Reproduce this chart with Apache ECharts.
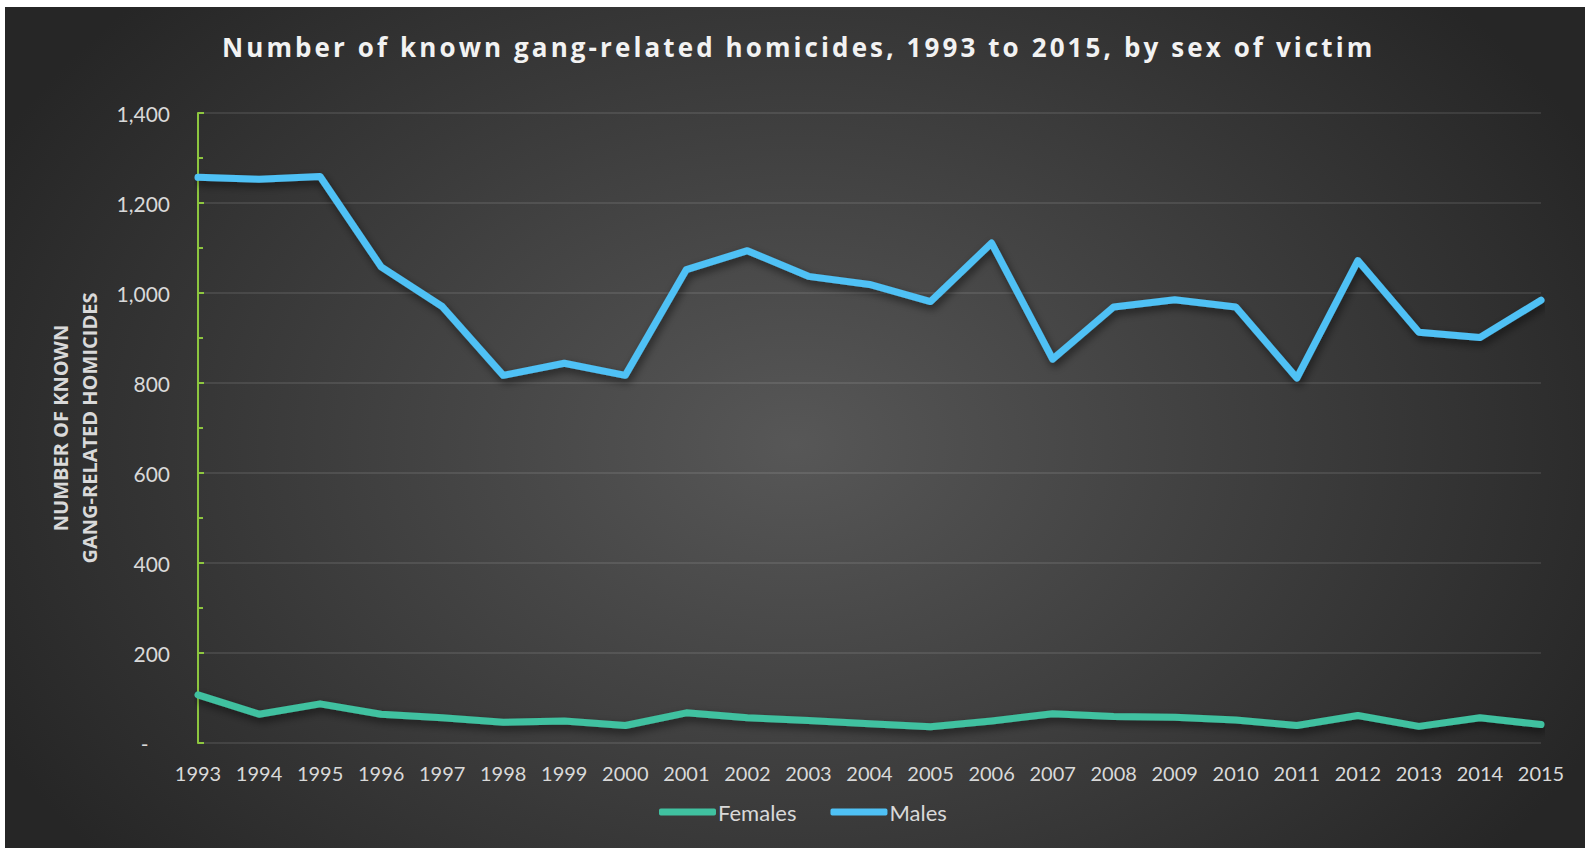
<!DOCTYPE html>
<html>
<head>
<meta charset="utf-8">
<script src="https://cdn.jsdelivr.net/npm/echarts@6/dist/echarts.min.js"></script>
<style>
  html, body { margin: 0; padding: 0; background: #ffffff; }
  #chart {
    position: absolute; left: 5px; top: 7px; width: 1580px; height: 841px;
    background: radial-gradient(ellipse 900px 650px at 50% 52%, #575757 0%, #262626 100%);
  }
</style>
</head>
<body>
<div id="chart"></div>
<script>
const titleText = 'Number of known gang-related homicides, 1993 to 2015, by sex of victim';
const yAxisName = 'NUMBER OF KNOWN\nGANG-RELATED HOMICIDES';
const years = ['1993','1994','1995','1996','1997','1998','1999','2000','2001','2002','2003','2004','2005','2006','2007','2008','2009','2010','2011','2012','2013','2014','2015'];
const females = [107,64,87,64,56,46,49,39,67,56,50,43,36,49,65,59,57,51,39,61,37,56,41];
const males = [1257,1253,1259,1058,970,817,844,817,1052,1094,1037,1019,981,1111,853,969,985,969,811,1072,913,901,984];
const seriesNames = ['Females', 'Males'];

const chart = echarts.init(document.getElementById('chart'), null, { renderer: 'svg' });
const labelColor = '#d9d9d9';
const font = 'Lato';
const lineShadow = { shadowColor: 'rgba(0,0,0,0.55)', shadowBlur: 8, shadowOffsetX: 2, shadowOffsetY: 4 };

function applySpacing() {
  const texts = document.querySelectorAll('#chart svg text');
  texts.forEach(t => {
    const s = t.textContent;
    if (s === titleText) t.style.letterSpacing = '3.1px';
  });
}
chart.on('finished', applySpacing);

chart.setOption({
  backgroundColor: 'transparent',
  animation: false,
  title: {
    text: titleText,
    left: 212,
    top: 22,
    textStyle: { color: '#f2f2f2', fontFamily: 'Open Sans', fontWeight: 'bold', fontSize: 26 }
  },
  legend: {
    data: seriesNames,
    left: 649,
    top: 789,
    icon: 'roundRect',
    itemWidth: 57,
    itemHeight: 7,
    itemGap: 34,
    textStyle: { color: labelColor, fontFamily: font, fontSize: 22, padding: [0, 0, 0, -3] }
  },
  grid: { left: 193, right: 44, top: 106, bottom: 105, containLabel: false },
  xAxis: {
    type: 'category',
    data: years,
    boundaryGap: false,
    axisLine: { show: false },
    axisTick: { show: false },
    axisLabel: { color: labelColor, fontFamily: font, fontSize: 20, margin: 20 },
    splitLine: { show: false }
  },
  yAxis: {
    type: 'value',
    min: 0, max: 1400, interval: 200,
    name: yAxisName,
    nameLocation: 'middle',
    nameGap: 94,
    nameTextStyle: { color: labelColor, fontFamily: 'Open Sans', fontWeight: 'bold', fontSize: 20, lineHeight: 29, align: 'center' },
    axisLine: { show: true, lineStyle: { color: '#8dc63f', width: 2 } },
    axisTick: { show: true, inside: true, length: 6, lineStyle: { color: '#8dc63f', width: 2 } },
    minorTick: { show: true, splitNumber: 2, length: 5, lineStyle: { color: '#8dc63f', width: 2 } },
    axisLabel: {
      color: labelColor, fontFamily: font, fontSize: 21, margin: 28,
      formatter: v => v === 0 ? '-    ' : v.toLocaleString('en-US')
    },
    splitLine: { show: true, lineStyle: { color: 'rgba(255,255,255,0.13)', width: 1.5 } }
  },
  series: [
    {
      name: seriesNames[0], type: 'line', data: females,
      showSymbol: false, symbol: 'none',
      color: '#40c1a0',
      lineStyle: Object.assign({ width: 7, color: '#40c1a0', cap: 'round', join: 'round' }, lineShadow)
    },
    {
      name: seriesNames[1], type: 'line', data: males,
      showSymbol: false, symbol: 'none',
      color: '#4fc1f5',
      lineStyle: Object.assign({ width: 7, color: '#4fc1f5', cap: 'round', join: 'round' }, lineShadow)
    }
  ]
});
applySpacing();
setTimeout(applySpacing, 50);
</script>
</body>
</html>
